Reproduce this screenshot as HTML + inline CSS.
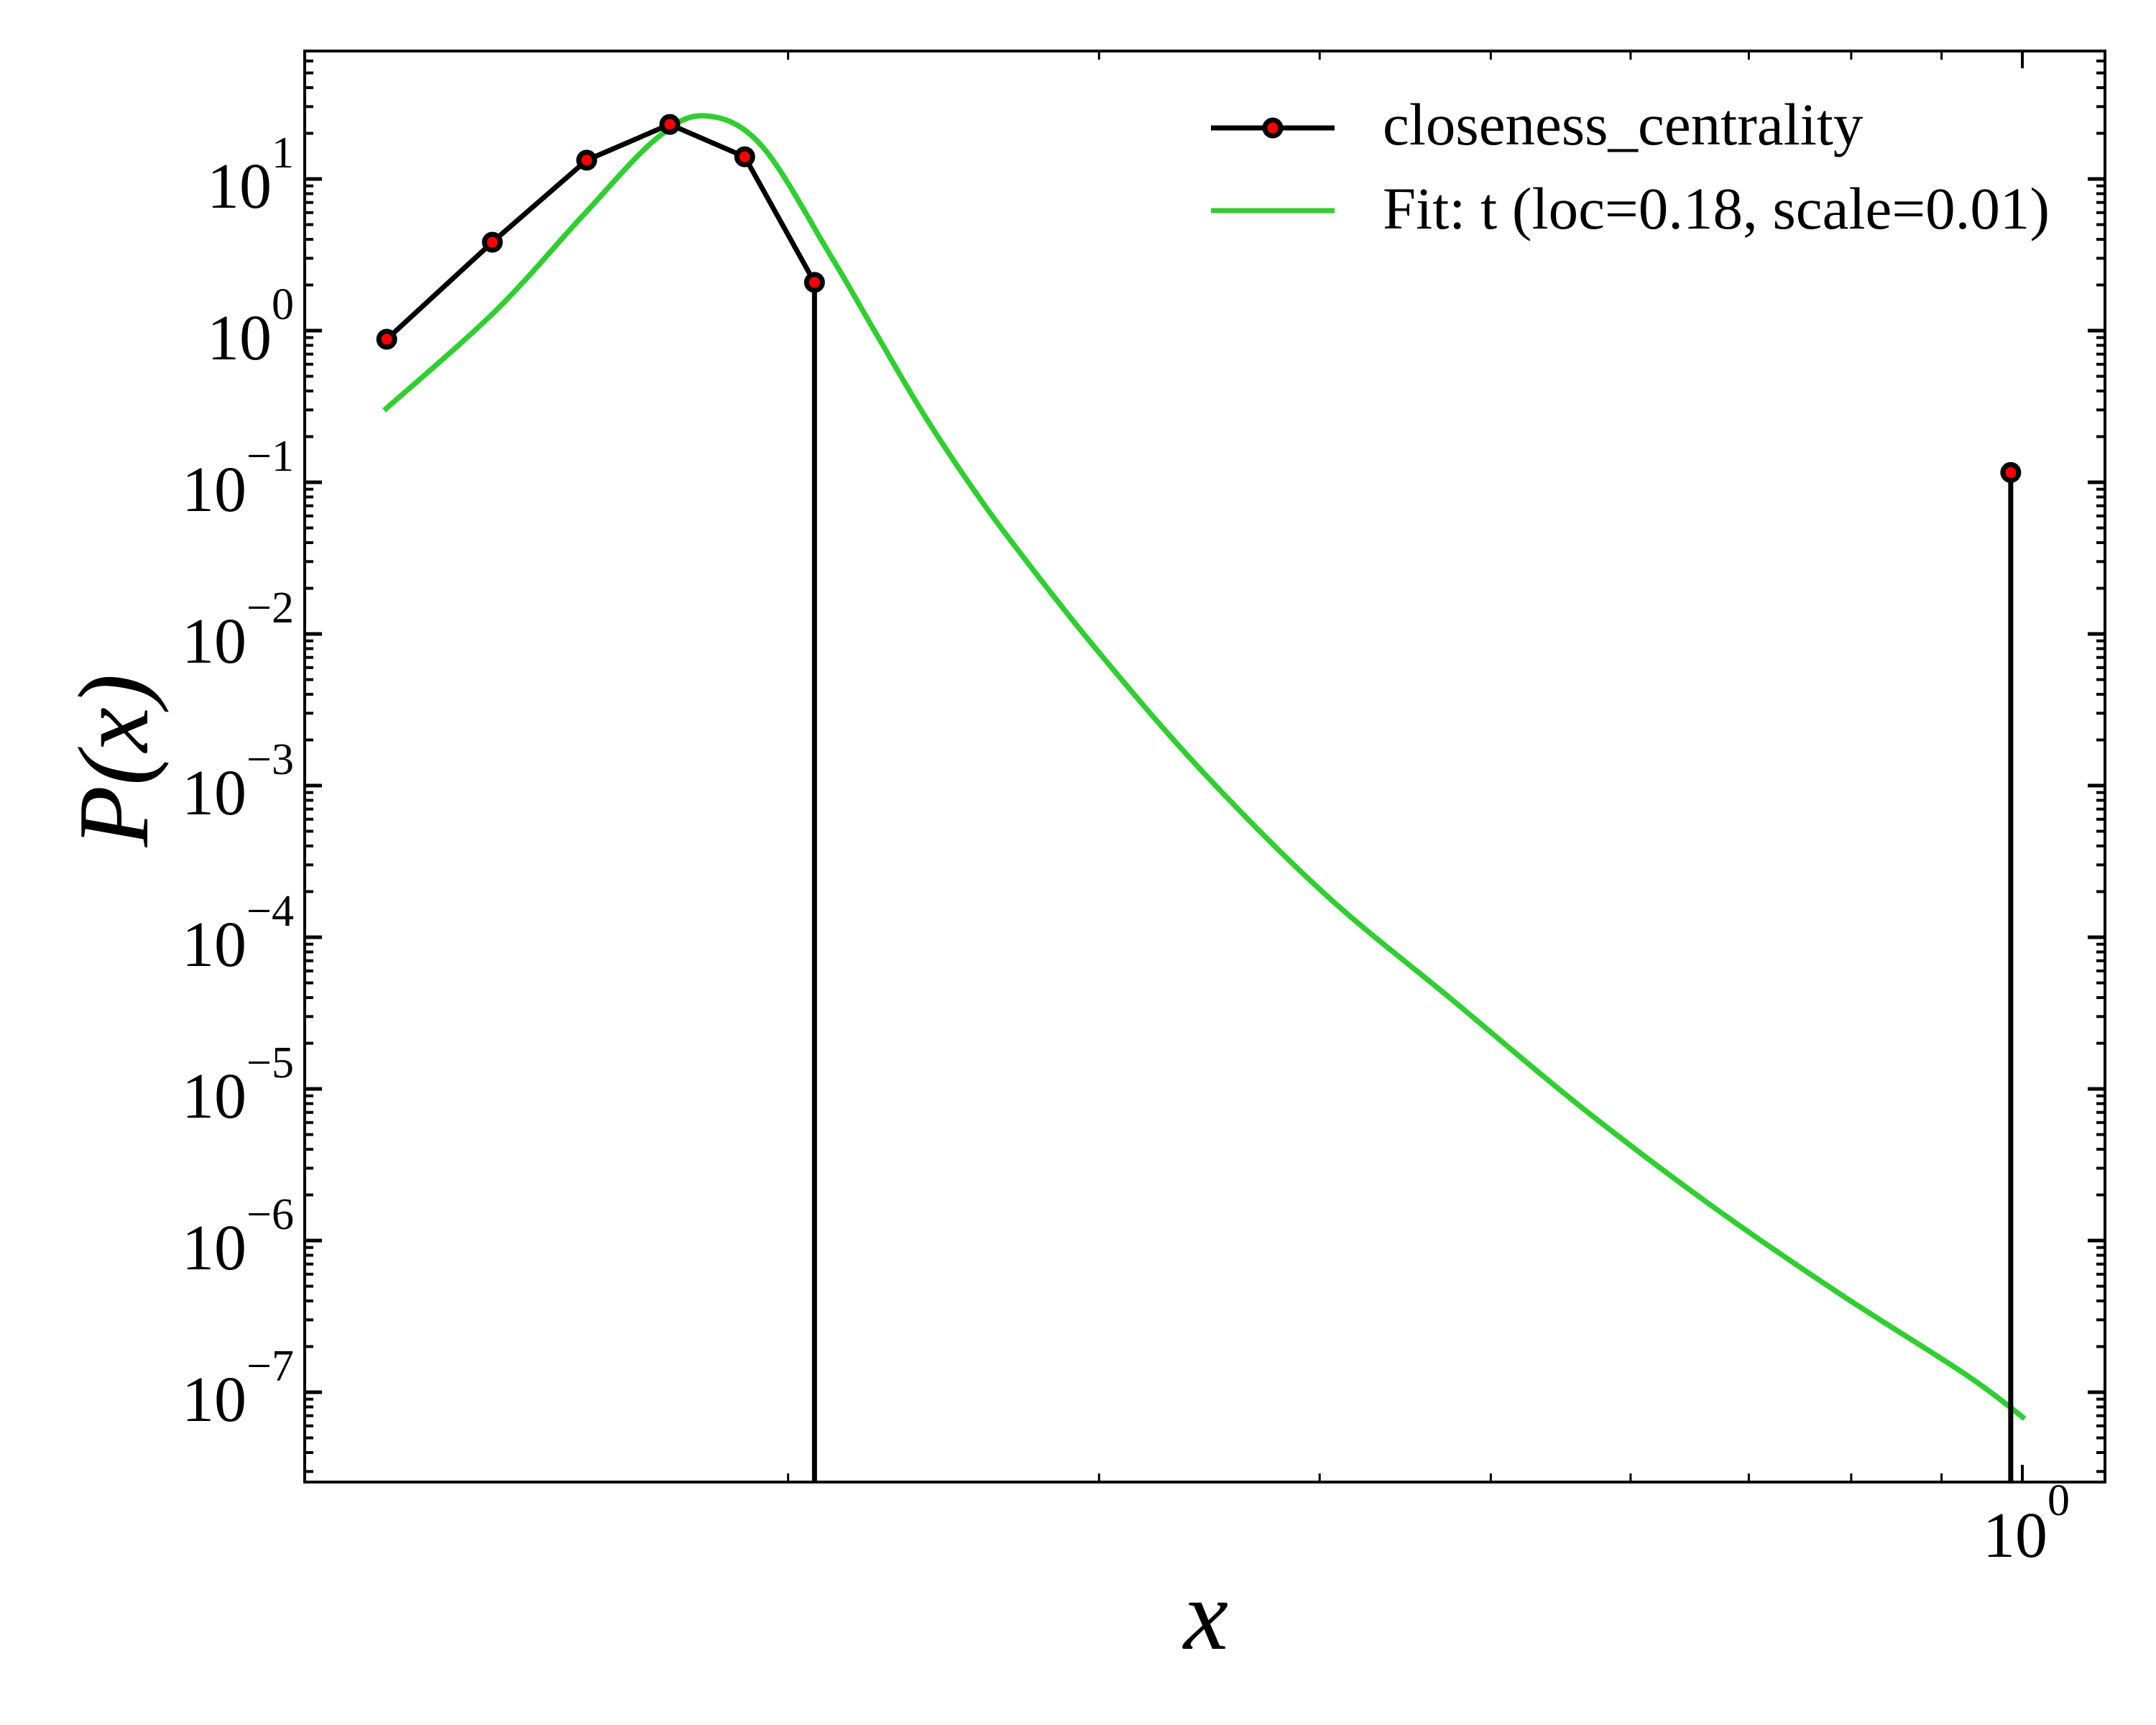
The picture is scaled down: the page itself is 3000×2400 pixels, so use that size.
<!DOCTYPE html>
<html><head><meta charset="utf-8"><style>
html,body{margin:0;padding:0;background:#fff;}
svg{display:block;}
text{font-family:"Liberation Serif","DejaVu Serif",serif;fill:#000;}
</style></head><body>
<svg id="chart" xmlns="http://www.w3.org/2000/svg" width="3000" height="2400" viewBox="0 0 3000 2400">
<rect x="0" y="0" width="3000" height="2400" fill="#fff"/>
<g id="plot"></g>
<g id="axes"></g>
<text x="1678" y="2294" font-size="140" font-style="italic" text-anchor="middle">x</text>
<text x="0" y="0" font-size="140" font-style="italic" text-anchor="middle" transform="translate(205,1058) rotate(-90)">P(x)</text>
<g>
<line x1="1685" y1="178" x2="1857" y2="178" stroke="#000" stroke-width="7"/>
<circle cx="1771" cy="178" r="11" fill="#f00" stroke="#000" stroke-width="7"/>
<text x="1924" y="201" font-size="83">closeness_centrality</text>
<line x1="1685" y1="293" x2="1857" y2="293" stroke="#32cd32" stroke-width="7"/>
<text x="1924" y="318" font-size="83">Fit: t (loc=0.18, scale=0.01)</text>
</g>
</svg>
<script>
const dataX = [0.1185, 0.136, 0.1538, 0.1714, 0.189, 0.207, 0.985];
const dataY = [0.877, 3.83, 13.3, 22.9, 14.0, 2.08, 0.116];
const fitX = [0.1181, 0.1364, 0.1529, 0.1682, 0.1793, 0.1931, 0.2113, 0.2243, 0.2381, 0.2526, 0.2683, 0.2982, 0.3428, 0.4029, 0.4738, 0.5625, 0.6653, 0.7858, 0.9296, 1.003];
const fitY = [0.298, 1.33, 5.67, 18.2, 26.1, 16.7, 3.15, 0.957, 0.294, 0.103, 0.0391, 8.2e-3, 1.26e-3, 1.92e-4, 4.0e-5, 7.6e-6, 1.73e-6, 4.56e-7, 1.30e-7, 6.7e-8];
const yTickExps = [1, 0, -1, -2, -3, -4, -5, -6, -7];
const xMinorTicks = [0.2, 0.3, 0.4, 0.5, 0.6, 0.7, 0.8, 0.9];
const xMajorExps = [0];

const L = 424, R = 2929, T = 71, B = 2062;
const X0 = 2814, XD = 2457, Y0 = 460, YD = 211;
function sx(v) { return X0 + XD * Math.log10(v); }
function sy(v) { return Y0 - YD * Math.log10(v); }
const NS = 'http://www.w3.org/2000/svg';
function mk(tag, attrs, parent) {
  const e = document.createElementNS(NS, tag);
  for (const k in attrs) e.setAttribute(k, attrs[k]);
  parent.appendChild(e);
  return e;
}
const plot = document.getElementById('plot');
const axes = document.getElementById('axes');

const defs = mk('defs', {}, plot);
const cp = mk('clipPath', { id: 'clip' }, defs);
mk('rect', { x: L, y: T, width: R - L, height: B - T }, cp);
const g = mk('g', { 'clip-path': 'url(#clip)' }, plot);

const pts = fitX.map((x, i) => [sx(x), sy(fitY[i])]);
let d = 'M' + pts[0][0] + ',' + pts[0][1];
for (let i = 0; i < pts.length - 1; i++) {
  const p0 = pts[Math.max(0, i - 1)], p1 = pts[i], p2 = pts[i + 1], p3 = pts[Math.min(pts.length - 1, i + 2)];
  const c1 = [p1[0] + (p2[0] - p0[0]) / 6, p1[1] + (p2[1] - p0[1]) / 6];
  const c2 = [p2[0] - (p3[0] - p1[0]) / 6, p2[1] - (p3[1] - p1[1]) / 6];
  d += ' C' + c1 + ' ' + c2 + ' ' + p2;
}
const fit = mk('path', { d: d, fill: 'none', stroke: '#32cd32', 'stroke-width': 7.5, 'stroke-linejoin': 'round' }, g);



let dd = '';
for (let i = 0; i < 6; i++) dd += (i ? ' L' : 'M') + sx(dataX[i]) + ',' + sy(dataY[i]);
dd += ' L' + sx(dataX[5]) + ',' + (B + 50);
dd += ' M' + sx(dataX[6]) + ',' + (B + 50) + ' L' + sx(dataX[6]) + ',' + sy(dataY[6]);
const dl = mk('path', { d: dd, fill: 'none', stroke: '#000', 'stroke-width': 7, 'stroke-linejoin': 'round' }, g);


for (let i = 0; i < dataX.length; i++) {
  const c = mk('circle', { cx: sx(dataX[i]), cy: sy(dataY[i]), r: 11, fill: '#f00', stroke: '#000', 'stroke-width': 7 }, g);
  
  
}

const fr = mk('rect', { x: L, y: T, width: R - L, height: B - T, fill: 'none', stroke: '#000', 'stroke-width': 4 }, axes);



for (let k = 2; k >= -8; k--) {
  for (let m = 1; m <= 9; m++) {
    const y = sy(m * Math.pow(10, k));
    if (y < T || y > B) continue;
    const len = m === 1 ? 24 : 12, w = m === 1 ? 5 : 4;
    const t1 = mk('line', { x1: L, y1: y, x2: L + len, y2: y, stroke: '#000', 'stroke-width': w }, axes);
    
    
    const t2 = mk('line', { x1: R, y1: y, x2: R - len, y2: y, stroke: '#000', 'stroke-width': w }, axes);
    
    
  }
}
yTickExps.forEach(k => {
  const y = sy(Math.pow(10, k));
  const t = mk('text', { x: 409, y: y + 40, 'font-size': 90, 'text-anchor': 'end' }, axes);
  
  
  t.appendChild(document.createTextNode('10'));
  const s = mk('tspan', { dy: -56, 'font-size': 62 }, t);
  s.textContent = k < 0 ? '\u2212' + (-k) : String(k);
});

xMinorTicks.forEach(v => {
  const x = sx(v);
  const a = mk('line', { x1: x, y1: B, x2: x, y2: B - 12, stroke: '#000', 'stroke-width': 3 }, axes);
  
  
  const b = mk('line', { x1: x, y1: T, x2: x, y2: T + 12, stroke: '#000', 'stroke-width': 3 }, axes);
  
  
});
xMajorExps.forEach(k => {
  const x = sx(Math.pow(10, k));
  const a = mk('line', { x1: x, y1: B, x2: x, y2: B - 24, stroke: '#000', 'stroke-width': 4 }, axes);
  
  
  const b = mk('line', { x1: x, y1: T, x2: x, y2: T + 24, stroke: '#000', 'stroke-width': 4 }, axes);
  
  
  const t = mk('text', { x: x - 55, y: 2166, 'font-size': 90 }, axes);
  
  
  t.appendChild(document.createTextNode('10'));
  const s = mk('tspan', { dy: -58, 'font-size': 62 }, t);
  s.textContent = String(k);
});
</script>
</body></html>
